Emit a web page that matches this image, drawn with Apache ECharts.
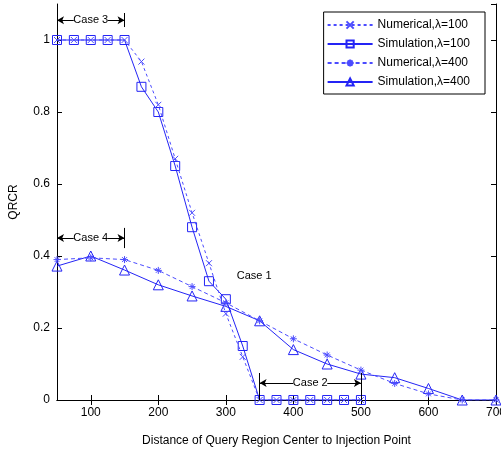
<!DOCTYPE html>
<html>
<head>
<meta charset="utf-8">
<script src="https://cdn.jsdelivr.net/npm/echarts@6/dist/echarts.min.js"></script>
<style>
  html, body { margin: 0; padding: 0; background: #fff; }
  #chart { width: 501px; height: 455px; }
</style>
</head>
<body>
<div id="chart"></div>
<script>
// distances for the two lambda settings
const dist100 = [50, 75, 100, 125, 150, 175, 200, 225, 250, 275, 300, 325, 350, 375, 400, 425, 450, 475, 500];
const dist400 = [50, 100, 150, 200, 250, 300, 350, 400, 450, 500, 550, 600, 650, 700];

// QRCR values
const numerical100 = [1, 1, 1, 1, 1, 0.94, 0.82, 0.67, 0.52, 0.38, 0.24, 0.12, 0, 0, 0, 0, 0, 0, 0];
const simulation100 = [1, 1, 1, 1, 1, 0.87, 0.80, 0.65, 0.48, 0.33, 0.28, 0.15, 0, 0, 0, 0, 0, 0, 0];
const numerical400 = [0.39, 0.395, 0.39, 0.36, 0.315, 0.27, 0.22, 0.17, 0.125, 0.083, 0.046, 0.017, 0, 0];
const simulation400 = [0.372, 0.40, 0.361, 0.32, 0.289, 0.26, 0.22, 0.14, 0.10, 0.072, 0.062, 0.032, 0, 0];

const seriesNames = ['Numerical,λ=100', 'Simulation,λ=100', 'Numerical,λ=400', 'Simulation,λ=400'];
const xTicks = [100, 200, 300, 400, 500, 600, 700];

// "Case" annotations: [label, x from, x to, y]
const caseSpans = [
  ['Case 3', 50, 150, 1.055],
  ['Case 4', 50, 150, 0.45],
  ['Case 2', 350, 500, 0.047]
];
// little vertical end bars: [x, y from, y to]
const caseBars = [
  [150, 1.036, 1.075],
  [150, 0.422, 0.478],
  [350, 0, 0.075],
  [500, 0, 0.075]
];
const case1Pos = [342, 0.345];

const chart = echarts.init(document.getElementById('chart'));

const font = 'Arial, "Liberation Sans", sans-serif';
const numColor = '#4b4bff';
const simColor = '#2424f5';

const crossPath = 'path://M0,0L10,10M10,0L0,10';
const starPath = 'path://M5,0L5,10M0,5L10,5M1.5,1.5L8.5,8.5M8.5,1.5L1.5,8.5';

function pairs(xs, ys) {
  return xs.map((x, i) => [x, ys[i]]);
}

const markLineData = [];
caseSpans.forEach(c => {
  markLineData.push([{ coord: [c[1], c[3]] }, { coord: [c[2], c[3]] }]);
});
caseBars.forEach(b => {
  markLineData.push([
    { coord: [b[0], b[1]], symbol: 'none' },
    { coord: [b[0], b[2]], symbol: 'none' }
  ]);
});

const markPointData = caseSpans.map(c => ({
  name: c[0],
  coord: [(c[1] + c[2]) / 2, c[3]],
  symbolSize: [34, 12]
}));
markPointData.push({ name: 'Case 1', coord: case1Pos, symbolSize: [34, 12] });

const option = {
  animation: false,
  textStyle: { fontFamily: font },
  grid: { left: 57, right: 5, top: 4, bottom: 55, outerBoundsMode: 'none', containLabel: false },
  legend: {
    data: seriesNames,
    orient: 'vertical',
    right: 16,
    top: 12,
    backgroundColor: '#fff',
    borderColor: '#000',
    borderWidth: 1,
    padding: [7, 15, 6, 3],
    itemWidth: 45,
    itemHeight: 9,
    itemGap: 7,
    textStyle: { fontSize: 12, color: '#000', fontFamily: font }
  },
  xAxis: [
    {
      type: 'value',
      min: 50,
      max: 700,
      name: 'Distance of Query Region Center to Injection Point',
      nameLocation: 'middle',
      nameGap: 35,
      nameTextStyle: { fontSize: 12, color: '#000' },
      axisLine: { lineStyle: { color: '#000' } },
      axisTick: { inside: true, length: 5, customValues: xTicks, lineStyle: { color: '#000' } },
      axisLabel: { customValues: xTicks, fontSize: 12, color: '#000', margin: 7 },
      splitLine: { show: false }
    },
    {
      type: 'value',
      position: 'top',
      min: 50,
      max: 700,
      axisLine: { lineStyle: { color: '#000' } },
      axisTick: { inside: true, length: 5, customValues: xTicks, lineStyle: { color: '#000' } },
      axisLabel: { show: false },
      splitLine: { show: false }
    }
  ],
  yAxis: [
    {
      type: 'value',
      min: 0,
      max: 1.1,
      interval: 0.2,
      name: 'QRCR',
      nameLocation: 'middle',
      nameGap: 37,
      nameTextStyle: { fontSize: 12, color: '#000' },
      axisLine: { show: true, lineStyle: { color: '#000' } },
      axisTick: { show: true, inside: true, length: 5, lineStyle: { color: '#000' } },
      axisLabel: { fontSize: 12, color: '#000', margin: 7, showMaxLabel: false },
      splitLine: { show: false }
    },
    {
      type: 'value',
      position: 'right',
      min: 0,
      max: 1.1,
      interval: 0.2,
      axisLine: { show: true, lineStyle: { color: '#000' } },
      axisTick: { show: true, inside: true, length: 5, lineStyle: { color: '#000' } },
      axisLabel: { show: false },
      splitLine: { show: false }
    }
  ],
  series: [
    {
      name: seriesNames[1],
      type: 'line',
      data: pairs(dist100, simulation100),
      symbol: 'rect',
      symbolSize: 9,
      itemStyle: { color: 'rgba(255,255,255,0)', borderColor: simColor, borderWidth: 1 },
      lineStyle: { color: simColor, width: 1 },
      z: 2
    },
    {
      name: seriesNames[3],
      type: 'line',
      data: pairs(dist400, simulation400),
      symbol: 'triangle',
      symbolSize: 10,
      itemStyle: { color: 'rgba(255,255,255,0)', borderColor: simColor, borderWidth: 1 },
      lineStyle: { color: simColor, width: 1 },
      z: 2,
      markLine: {
        silent: true,
        z: 5,
        symbol: ['arrow', 'arrow'],
        symbolSize: [6, 7],
        label: { show: false },
        lineStyle: { color: '#000', type: 'solid', width: 1 },
        data: markLineData
      },
      markPoint: {
        silent: true,
        z: 6,
        symbol: 'rect',
        itemStyle: { color: '#fff' },
        label: {
          show: true,
          position: 'inside',
          formatter: '{b}',
          color: '#000',
          fontSize: 11,
          fontFamily: font
        },
        data: markPointData
      }
    },
    {
      name: seriesNames[0],
      type: 'line',
      data: pairs(dist100, numerical100),
      symbol: crossPath,
      symbolSize: 6,
      itemStyle: { color: numColor, borderColor: numColor, borderWidth: 1 },
      lineStyle: { color: numColor, width: 1, type: [3, 3] },
      z: 3
    },
    {
      name: seriesNames[2],
      type: 'line',
      data: pairs(dist400, numerical400),
      symbol: starPath,
      symbolSize: 7,
      itemStyle: { color: numColor, borderColor: numColor, borderWidth: 1 },
      lineStyle: { color: numColor, width: 1, type: [4, 3] },
      z: 3
    }
  ]
};

chart.setOption(option);
</script>
</body>
</html>
